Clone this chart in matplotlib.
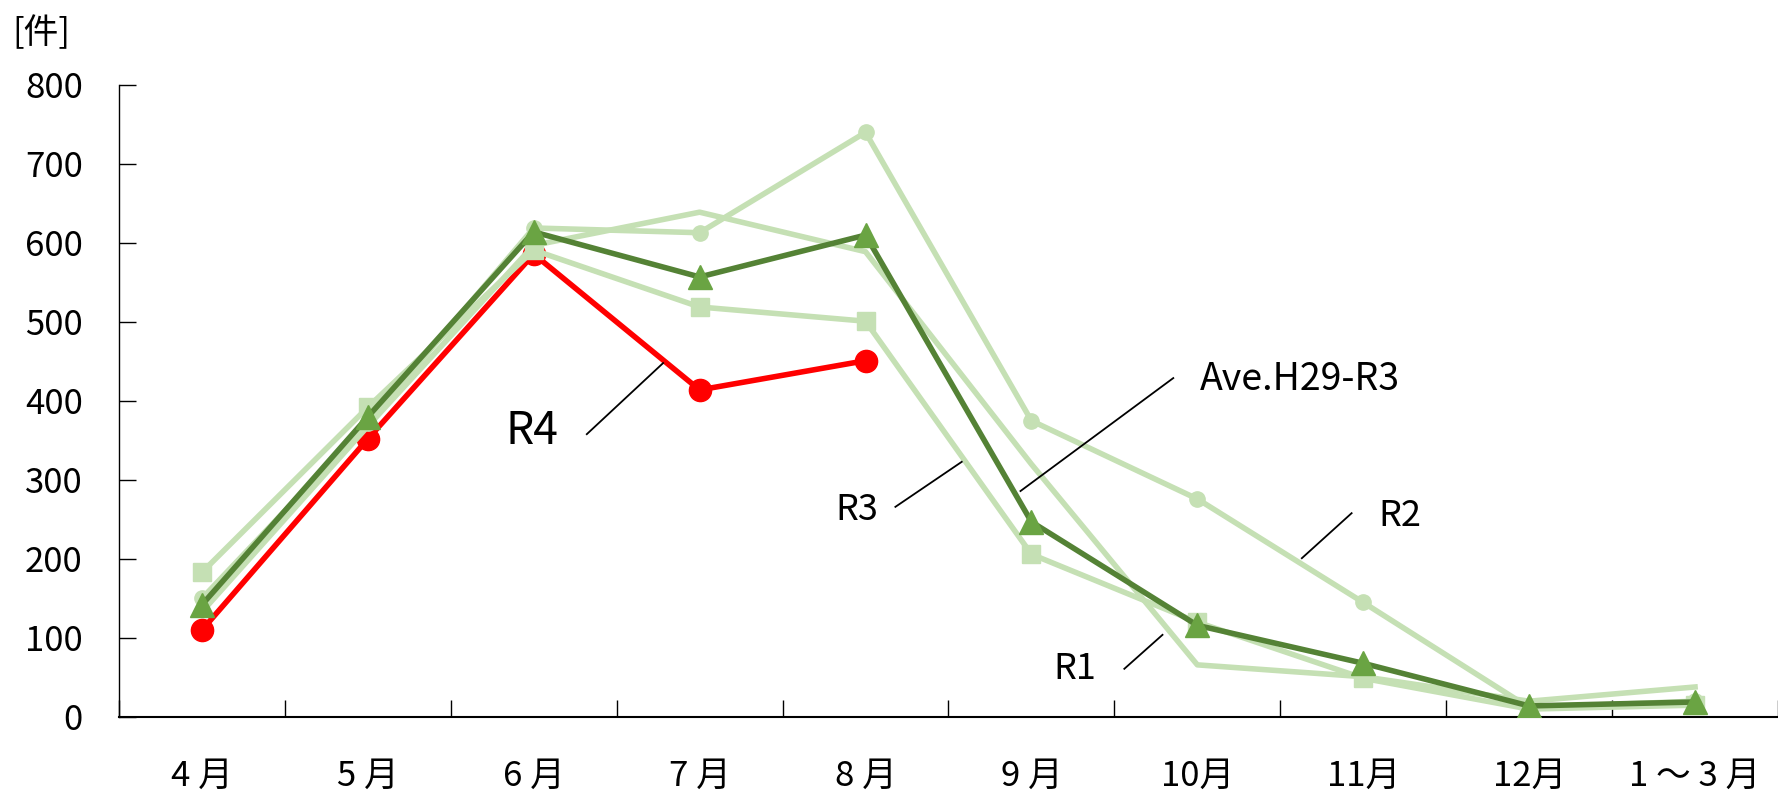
import numpy as np
import matplotlib
matplotlib.use('Agg')
import matplotlib.pyplot as plt

plt.rcParams['font.family'] = ['Noto Sans CJK JP', 'DejaVu Sans']

months = ['4 月', '5 月', '6 月', '7 月', '8 月', '9 月', '10月', '11月', '12月', '1 ～ 3 月']
r4 = [110, 352, 586, 414, 451]
ave = [142, 380, 614, 557, 610, 247, 116, 68, 14, 19]
r1 = [183, 392, 591, 519, 501, 206, 120, 49, 10, 15]
r2 = [150, 372, 619, 613, 740, 375, 276, 145, 12, 20]
r3 = [133, 368, 597, 639, 589, 320, 66, 51, 20, 38]

light = '#C5E0B4'
dark = '#548235'
tri = '#6AA443'

fig = plt.figure(figsize=(17.78, 7.92), dpi=100)
ax = fig.add_axes([0.0669, 0.0947, 0.9331, 0.798])

x = np.arange(len(months))
ax.plot(x[:len(r4)], r4, color='#FF0000', lw=4, marker='o', ms=16, zorder=2)
ax.plot(x, r3, color=light, lw=4, zorder=3)
ax.plot(x, r2, color=light, lw=4, marker='o', ms=11, zorder=3)
ax.plot(x, r1, color=light, lw=4, marker='s', ms=13, zorder=3)
ax.plot(x, ave, color=dark, lw=4, marker='^', ms=17, mfc=tri, mec=tri, zorder=4)

ax.set_xlim(-0.5, len(months) - 0.5)
ax.set_ylim(0, 800)
ax.set_yticks(range(0, 801, 100))
ax.set_xticks(np.arange(-0.5, len(months), 1.0))
ax.set_xticklabels([])
ax.set_xticks(x, minor=True)
ax.set_xticklabels(months, minor=True)
ax.tick_params(axis='x', which='major', direction='in', length=12, width=1)
ax.tick_params(axis='x', which='minor', length=0, pad=30, labelsize=25)
ax.tick_params(axis='y', direction='in', length=12, width=1, pad=26, labelsize=25)
for s in ['top', 'right']:
    ax.spines[s].set_visible(False)
ax.spines['bottom'].set_linewidth(1.5)
ax.spines['left'].set_linewidth(1)

fig.text(0.007, 0.958, '[件]', fontsize=25, va='center', ha='left')

# labels with leader lines
lab = dict(color='black', lw=1.3, zorder=5)
ax.text(1.99, 362, 'R4', fontsize=32, ha='center', va='center')
ax.plot([2.32, 2.78], [358, 448], **lab)
ax.text(6.62, 427, 'Ave.H29-R3', fontsize=27, ha='center', va='center')
ax.plot([5.855, 4.934], [429, 286], **lab)
ax.text(3.95, 262, 'R3', fontsize=26, ha='center', va='center')
ax.plot([4.18, 4.58], [266, 323], **lab)
ax.text(7.22, 254, 'R2', fontsize=26, ha='center', va='center')
ax.plot([6.63, 6.93], [201, 258], **lab)
ax.text(5.26, 61, 'R1', fontsize=26, ha='center', va='center')
ax.plot([5.56, 5.79], [61, 104], **lab)

fig.savefig('out.png', dpi=100)
